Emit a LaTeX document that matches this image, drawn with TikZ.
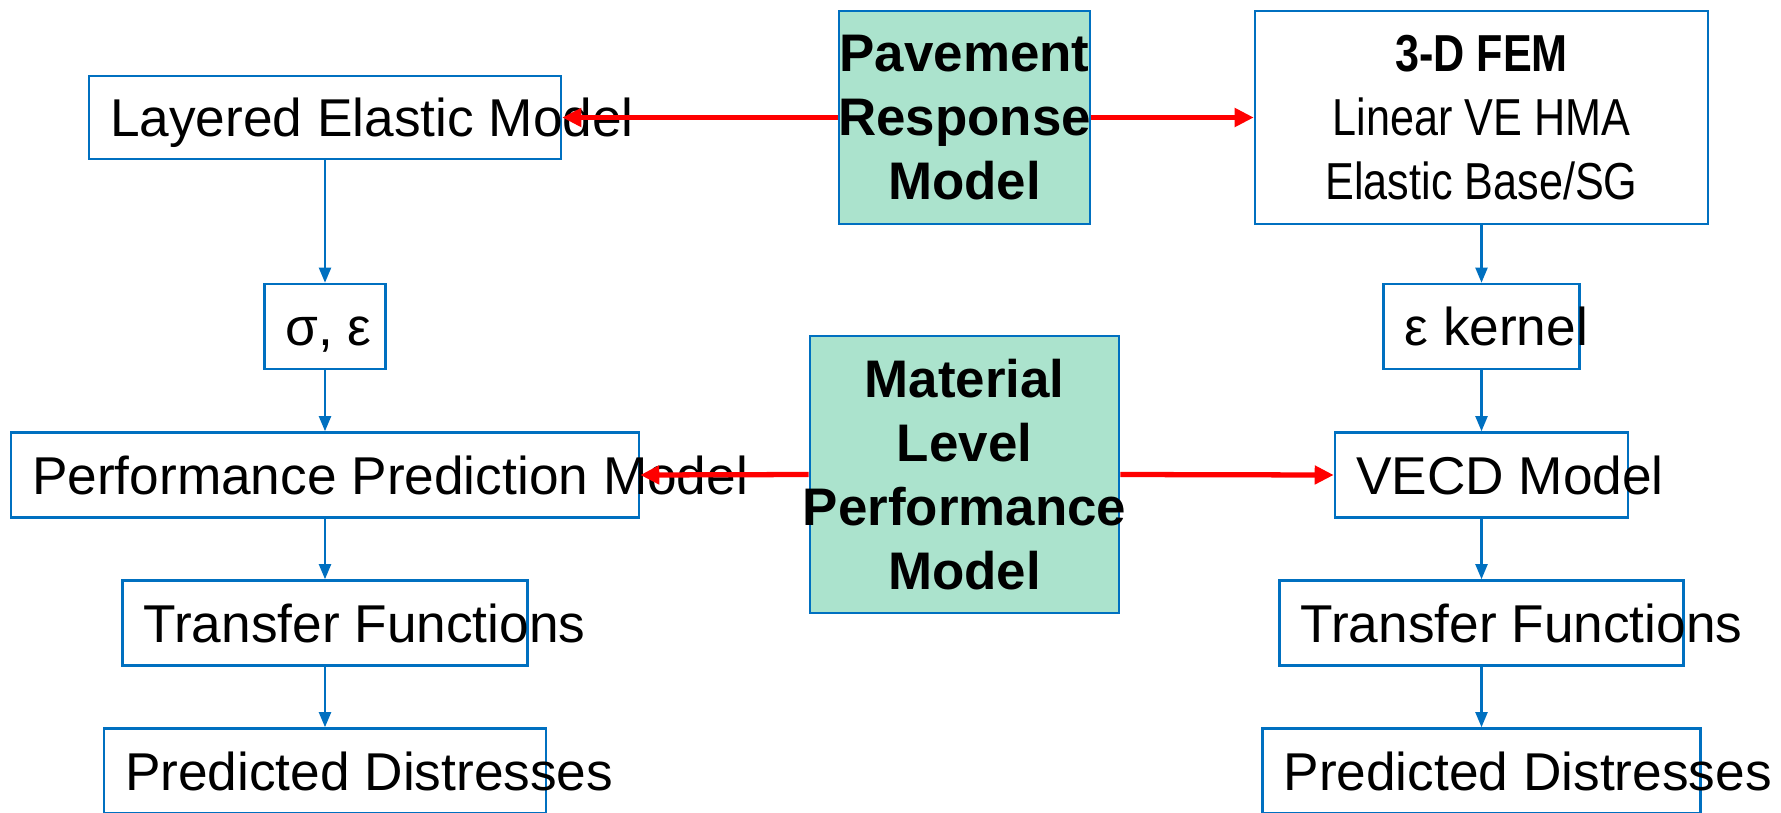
\documentclass[tikz,border=0pt]{standalone}
\usepackage{fontspec}
\setmainfont{Liberation Sans}
\newfontfamily\narrowfont[FakeStretch=0.83]{Liberation Sans}
\usetikzlibrary{arrows.meta}
\definecolor{boxblue}{HTML}{0070C0}
\definecolor{modelgreen}{HTML}{ABE3CD}
\newcommand{\boxtxt}[2]{\makebox[#1][l]{#2}}
\newcommand{\midtxt}[1]{\makebox[4cm]{#1}}
\begin{document}
\begin{tikzpicture}[x=0.02cm,y=-0.02cm,
	every node/.style={font=\fontsize{30.3}{36.5}\selectfont},
	stepbox/.style={draw=boxblue,line width=1.5pt,minimum height=1.7cm,inner xsep=0.42cm,inner ysep=0,text height=0.764cm,text depth=0pt},
	modelbox/.style={draw=boxblue,line width=1.5pt,fill=modelgreen,inner sep=0pt,align=center,font=\bfseries\fontsize{30.1}{36.5}\selectfont},
	flow/.style={draw=boxblue,line width=1.2pt,-{Triangle[length=0.3cm,width=0.24cm]}},
	link/.style={draw=red,line width=3pt,-{Triangle[length=0.38cm,width=0.36cm]}}]
		\useasboundingbox (0,0) rectangle (1781,812);
		% left column
		\node[stepbox,minimum height=1.66cm] (lem) at (325,117.5) {\boxtxt{8.6cm}{Layered Elastic Model}};
		\node[stepbox] (sig) at (325,326.5) {\boxtxt{1.58cm}{σ, ε}};
		\node[stepbox] (ppm) at (325,475) {\boxtxt{11.72cm}{Performance Prediction Model}};
		\node[stepbox] (tfl) at (325,623) {\boxtxt{7.26cm}{Transfer Functions}};
		\node[stepbox] (pdl) at (325,771) {\boxtxt{8.0cm}{Predicted Distresses}};
		% middle
		\node[modelbox,minimum width=5.02cm,minimum height=4.26cm] (prm) at (964.5,117.5) {\midtxt{Pavement}\\\midtxt{Response}\\\midtxt{Model}};
		\node[modelbox,minimum width=6.18cm,minimum height=5.54cm] (mlpm) at (964.5,474.5) {\midtxt{Material}\\\midtxt{Level}\\\midtxt{Performance}\\\midtxt{Model}};
		% right column
		\node[draw=boxblue,line width=1.5pt,minimum width=9.06cm,minimum height=4.26cm,inner sep=0pt,align=center,font=\narrowfont\fontsize{29.6}{36.5}\selectfont] (fem) at (1481.5,117.5) {\textbf{3-D FEM}\\Linear VE HMA\\Elastic Base/SG};
		\node[stepbox] (eps) at (1481.5,326.5) {\boxtxt{3.08cm}{ε kernel}};
		\node[stepbox] (vecd) at (1481.5,475) {\boxtxt{5.02cm}{VECD Model}};
		\node[stepbox] (tfr) at (1481.5,623) {\boxtxt{7.24cm}{Transfer Functions}};
		\node[stepbox] (pdr) at (1481.5,771) {\boxtxt{7.92cm}{Predicted Distresses}};
		\foreach \a/\b in {lem/sig,sig/ppm,ppm/tfl,tfl/pdl,fem/eps,eps/vecd,vecd/tfr,tfr/pdr}
			\draw[flow] (\a.south) -- (\b.north);
		\draw[link] (prm.west) -- (lem.east);
		\draw[link] (prm.east) -- (fem.west);
		\draw[link] (mlpm.west) -- (ppm.east);
		\draw[link] (mlpm.east) -- (vecd.west);
\end{tikzpicture}
\end{document}
